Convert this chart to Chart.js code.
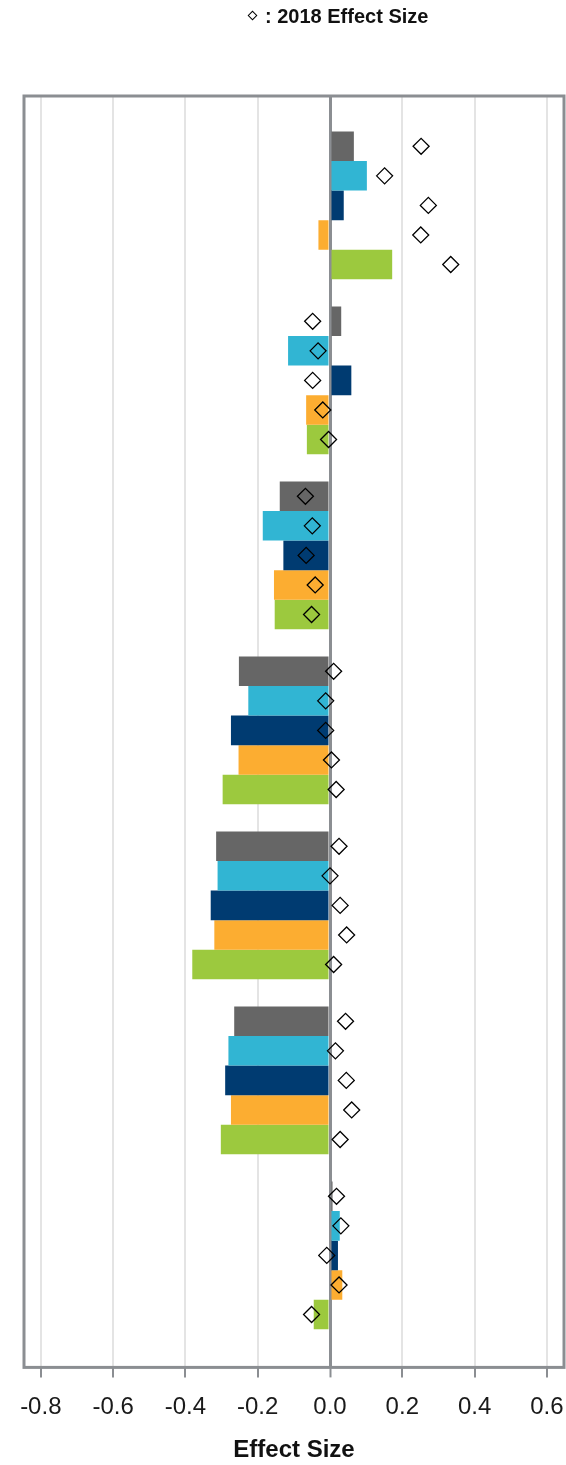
<!DOCTYPE html>
<html>
<head>
<meta charset="utf-8">
<script src="https://cdn.jsdelivr.net/npm/chart.js@4.4.1/dist/chart.umd.min.js"></script>
<style>
  html, body { margin: 0; padding: 0; background: #ffffff; }
  #wrap { position: relative; width: 566px; height: 1465px; }
  #legend { position: absolute; left: 249px; top: 4px; font-family: 'Liberation Sans', Arial, sans-serif;
            font-weight: bold; font-size: 20px; line-height: 24px; color: #111; white-space: nowrap; }
  #legend .dia { display: inline-block; width: 5px; height: 5px; border: 1px solid #000; transform: rotate(45deg);
                 margin-right: 9px; vertical-align: 4px; }
</style>
</head>
<body>
<div id="wrap">
  <canvas id="c" width="566" height="1465"></canvas>
  <div id="legend"><span class="dia"></span>: 2018 Effect Size</div>
</div>
<script>
// ---- data ----
const categories = ['Group 1', 'Group 2', 'Group 3', 'Group 4', 'Group 5', 'Group 6', 'Group 7'];
const seriesNames = ['Series 1', 'Series 2', 'Series 3', 'Series 4', 'Series 5'];

const series1 = [0.066, 0.031, -0.139, -0.252, -0.315, -0.265, 0.007];
const series2 = [0.102, -0.116, -0.186, -0.226, -0.311, -0.281, 0.027];
const series3 = [0.038, 0.059, -0.129, -0.274, -0.330, -0.290, 0.022];
const series4 = [-0.032, -0.066, -0.155, -0.253, -0.320, -0.274, 0.034];
const series5 = [0.172, -0.064, -0.153, -0.297, -0.381, -0.302, -0.045];

const effect2018_s1 = [0.252, -0.048, -0.068, 0.010, 0.025, 0.043, 0.018];
const effect2018_s2 = [0.151, -0.033, -0.049, -0.012, 0.000, 0.015, 0.030];
const effect2018_s3 = [0.272, -0.048, -0.066, -0.012, 0.028, 0.045, -0.009];
const effect2018_s4 = [0.251, -0.020, -0.041, 0.004, 0.046, 0.060, 0.025];
const effect2018_s5 = [0.334, -0.004, -0.051, 0.017, 0.010, 0.028, -0.051];

const tickValues = [-0.8, -0.6, -0.4, -0.2, 0.0, 0.2, 0.4, 0.6];
const tickLabels = ['-0.8', '-0.6', '-0.4', '-0.2', '0.0', '0.2', '0.4', '0.6'];

// ---- styling / layout ----
const seriesColors = ['#666666', '#31b5d3', '#003b71', '#fcad31', '#9cc93e'];
const FONT = "'Liberation Sans', Arial, sans-serif";
const X_MIN = -0.8465, X_MAX = 0.6473;
const Y_MIN = -0.625, Y_MAX = 6.64;
const CAT_PCT = 0.844;

const barValues = [series1, series2, series3, series4, series5];
const effectValues = [effect2018_s1, effect2018_s2, effect2018_s3, effect2018_s4, effect2018_s5];
const nSeries = barValues.length;
const slot = CAT_PCT / nSeries;

const datasets = barValues.map((vals, s) => ({
  type: 'bar',
  label: seriesNames[s],
  data: vals.map((v, i) => ({ x: v, y: i })),
  backgroundColor: seriesColors[s],
  borderWidth: 0,
  categoryPercentage: CAT_PCT,
  barPercentage: 1.0,
  order: 1
}));

const diamondData = [];
effectValues.forEach((vals, s) => {
  vals.forEach((v, i) => {
    diamondData.push({ x: v, y: i + (s - (nSeries - 1) / 2) * slot });
  });
});

datasets.push({
  type: 'scatter',
  label: '2018 Effect Size',
  data: diamondData,
  pointStyle: 'rectRot',
  pointRadius: 8,
  pointBorderWidth: 1.3,
  pointBorderColor: '#000000',
  pointBackgroundColor: 'rgba(0,0,0,0)',
  order: -1
});

const framePlugin = {
  id: 'frame',
  beforeDatasetsDraw(chart) {
    const { ctx, chartArea: a } = chart;
    ctx.save();
    ctx.strokeStyle = '#8b8e92';
    ctx.lineWidth = 3;
    ctx.strokeRect(a.left, a.top, a.right - a.left, a.bottom - a.top);
    ctx.restore();
  }
};

new Chart(document.getElementById('c'), {
  data: { datasets },
  plugins: [framePlugin],
  options: {
    indexAxis: 'y',
    responsive: false,
    animation: false,
    layout: { autoPadding: false, padding: { left: 24, right: 2, top: 96, bottom: 0 } },
    plugins: { legend: { display: false }, tooltip: { enabled: false } },
    scales: {
      x: {
        type: 'linear',
        min: X_MIN,
        max: X_MAX,
        afterBuildTicks: (scale) => { scale.ticks = tickValues.map(v => ({ value: v })); },
        afterFit: (scale) => { scale.paddingLeft = 0; scale.paddingRight = 0; },
        ticks: {
          callback: (value) => {
            const k = tickValues.findIndex(t => Math.abs(t - value) < 1e-9);
            return k >= 0 ? tickLabels[k] : '';
          },
          font: { family: FONT, size: 24 },
          color: '#1a1a1a',
          padding: 16,
          autoSkip: false,
          maxRotation: 0
        },
        grid: {
          color: (ctx) => (ctx.tick && Math.abs(ctx.tick.value) < 1e-9) ? '#8b8e92' : '#e4e4e4',
          lineWidth: (ctx) => (ctx.tick && Math.abs(ctx.tick.value) < 1e-9) ? 3 : 2,
          tickColor: '#8b8e92',
          tickWidth: 2,
          tickLength: 10,
          drawTicks: true
        },
        border: { display: false },
        title: {
          display: true,
          text: 'Effect Size',
          font: { family: FONT, size: 24, weight: 'bold' },
          color: '#111111',
          padding: { top: -2, bottom: 0 }
        }
      },
      y: {
        type: 'linear',
        reverse: true,
        offset: false,
        min: Y_MIN,
        max: Y_MAX,
        display: false,
        grid: { offset: false },
        afterBuildTicks: (scale) => { scale.ticks = categories.map((c, i) => ({ value: i })); }
      }
    }
  }
});
</script>
</body>
</html>
